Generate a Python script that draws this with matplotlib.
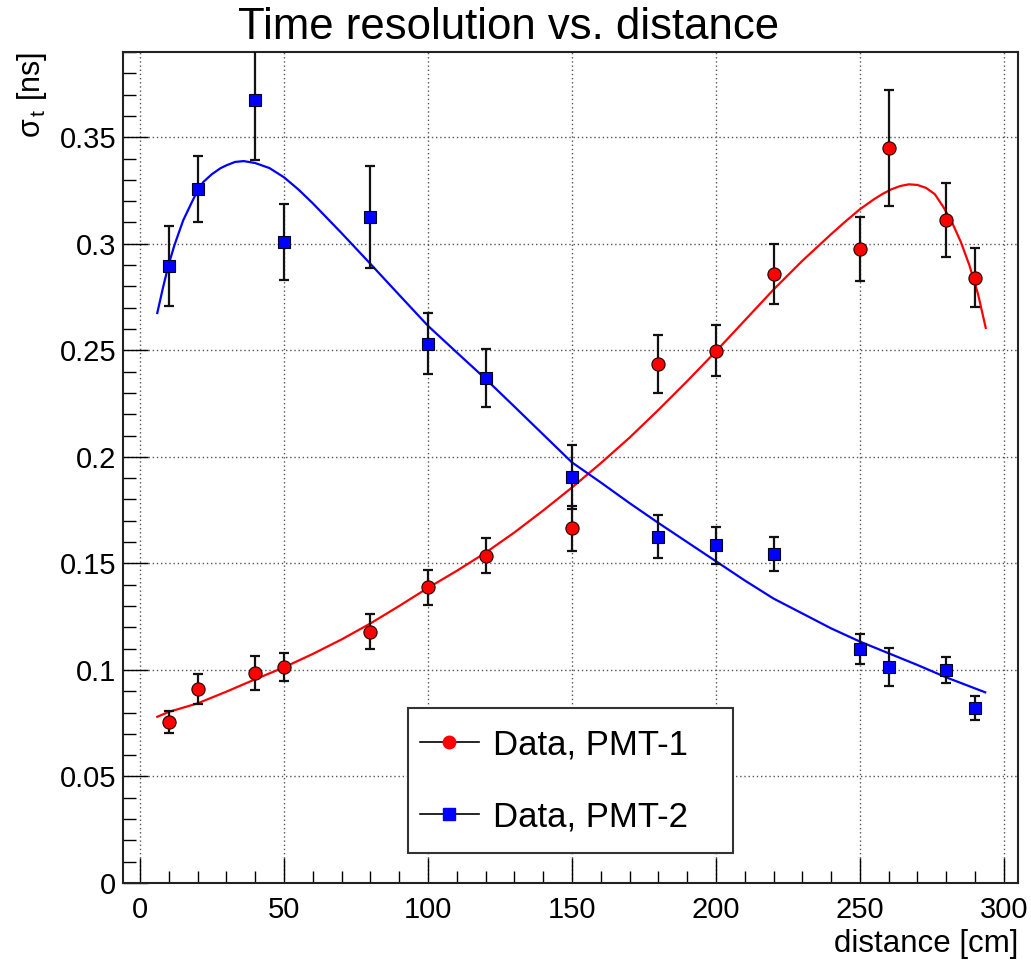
import matplotlib
matplotlib.use('Agg')
import matplotlib.pyplot as plt
from matplotlib.ticker import MultipleLocator, FuncFormatter
from matplotlib.lines import Line2D
from matplotlib.patches import Rectangle

plt.rcParams['font.family'] = ['Liberation Sans', 'DejaVu Sans']
plt.rcParams['mathtext.fontset'] = 'custom'
plt.rcParams['mathtext.rm'] = 'Liberation Sans'
plt.rcParams['mathtext.it'] = 'Liberation Sans'
plt.rcParams['mathtext.sf'] = 'Liberation Sans'

title = "Time resolution vs. distance"
x_label = "distance [cm]"
y_label = r"$\sigma_{\,t}$ [ns]"
legend_labels = ["Data, PMT-1", "Data, PMT-2"]

distance = [10, 20, 40, 50, 80, 100, 120, 150, 180, 200, 220, 250, 260, 280, 290]

sigma_pmt1 = [0.0755, 0.0909, 0.0984, 0.1012, 0.1180, 0.1387, 0.1537, 0.1664,
              0.2437, 0.2498, 0.2859, 0.2975, 0.3450, 0.3112, 0.2840]
err_pmt1 = [0.0050, 0.0070, 0.0080, 0.0066, 0.0082, 0.0080, 0.0084, 0.0105,
            0.0136, 0.0120, 0.0140, 0.0152, 0.0272, 0.0173, 0.0138]

sigma_pmt2 = [0.2896, 0.3257, 0.3674, 0.3008, 0.3126, 0.2530, 0.2371, 0.1907,
              0.1626, 0.1584, 0.1542, 0.1100, 0.1012, 0.0998, 0.0820]
err_pmt2 = [0.0187, 0.0157, 0.0280, 0.0180, 0.0239, 0.0143, 0.0136, 0.0150,
            0.0103, 0.0085, 0.0080, 0.0070, 0.0089, 0.0061, 0.0056]

fit1_x = [6, 10, 20, 30, 40, 50, 60, 70, 80, 90, 100, 110, 120, 130, 140, 150,
          160, 170, 180, 190, 200, 210, 220, 230, 240, 245, 250, 255, 258, 261,
          264, 267, 270, 273, 276, 279, 282, 285, 288, 291, 293.7]
fit1_y = [0.0780, 0.0803, 0.0843, 0.0898, 0.0956, 0.1012, 0.1075, 0.1143, 0.1218,
          0.1300, 0.1385, 0.1465, 0.1550, 0.1645, 0.1748, 0.1856, 0.1970, 0.2090,
          0.2220, 0.2355, 0.2495, 0.2640, 0.2785, 0.2920, 0.3045, 0.3105, 0.3162,
          0.3210, 0.3235, 0.3256, 0.3271, 0.3279, 0.3276, 0.3262, 0.3233, 0.3172,
          0.3100, 0.3010, 0.2900, 0.2765, 0.2605]

fit2_x = [6, 8, 10, 12, 15, 18, 20, 22, 25, 28, 30, 33, 36, 40, 45, 50, 55, 60,
          70, 80, 90, 100, 110, 120, 130, 140, 150, 160, 170, 180, 190, 200, 210,
          220, 230, 240, 250, 260, 270, 280, 293.5]
fit2_y = [0.2675, 0.2795, 0.2905, 0.2995, 0.3110, 0.3195, 0.3250, 0.3290, 0.3327,
          0.3355, 0.3368, 0.3384, 0.3388, 0.3379, 0.3355, 0.3312, 0.3255, 0.3190,
          0.3050, 0.2906, 0.2760, 0.2615, 0.2490, 0.2366, 0.2236, 0.2105, 0.1974,
          0.1880, 0.1783, 0.1690, 0.1600, 0.1510, 0.1420, 0.1335, 0.1265, 0.1195,
          0.1133, 0.1078, 0.1023, 0.0965, 0.0895]

fig = plt.figure(figsize=(10.31, 9.61), dpi=100)
ax = fig.add_axes([123 / 1031, 1 - 883 / 961, 895 / 1031, 831 / 961])

ax.set_xlim(-5.9, 304.9)
ax.set_ylim(0, 0.39)

ax.xaxis.set_major_locator(MultipleLocator(50))
ax.xaxis.set_minor_locator(MultipleLocator(10))
ax.yaxis.set_major_locator(MultipleLocator(0.05))
ax.yaxis.set_minor_locator(MultipleLocator(0.01))
ax.yaxis.set_major_formatter(FuncFormatter(lambda v, p: f"{v:g}"))

ax.grid(which='major', linestyle=(0, (1, 2)), color='#555555', linewidth=1.0)
ax.set_axisbelow(True)

ax.tick_params(which='major', direction='in', length=18, width=1.0,
               top=False, right=False, labelsize=21, pad=5, color='black')
ax.tick_params(which='minor', direction='in', length=9, width=1.0,
               top=False, right=False, color='black')
ax.tick_params(axis='x', which='major', pad=9)
for s in ax.spines.values():
    s.set_linewidth(1.5)
    s.set_color('#222222')

# fit curves
ax.plot(fit1_x, fit1_y, color='#ff0000', lw=1.6, zorder=3)
ax.plot(fit2_x, fit2_y, color='#0000ff', lw=1.6, zorder=3)

# data
ax.errorbar(distance, sigma_pmt1, yerr=err_pmt1, fmt='none', ecolor='#111111',
            elinewidth=1.6, capsize=3.5, capthick=1.6, zorder=4)
ax.plot(distance, sigma_pmt1, linestyle='none', marker='o', markersize=9.5,
        markerfacecolor='#ff0000', markeredgecolor='#220000', markeredgewidth=0.8,
        zorder=5)
ax.errorbar(distance, sigma_pmt2, yerr=err_pmt2, fmt='none', ecolor='#111111',
            elinewidth=1.6, capsize=3.5, capthick=1.6, zorder=4)
ax.plot(distance, sigma_pmt2, linestyle='none', marker='s', markersize=8.5,
        markerfacecolor='#0000ff', markeredgecolor='#000022', markeredgewidth=0.8,
        zorder=5)

# legend box
frame = Rectangle((0.3184, 0.0361), 0.3632, 0.1745, transform=ax.transAxes,
                  facecolor='white', edgecolor='#333333', linewidth=1.5, zorder=6)
ax.add_patch(frame)

handles = [
    Line2D([], [], color='black', lw=1.2, marker='o', markersize=9,
           markerfacecolor='#ff0000', markeredgecolor='#ff0000'),
    Line2D([], [], color='black', lw=1.2, marker='s', markersize=8,
           markerfacecolor='#0000ff', markeredgecolor='#0000ff'),
]
leg = ax.legend(handles, legend_labels, loc='center left',
                bbox_to_anchor=(0.3318, 0.1227), fontsize=25, frameon=False,
                handlelength=1.7, handletextpad=0.4, labelspacing=1.12,
                borderaxespad=0, borderpad=0)
leg.set_zorder(7)

ax.set_xlabel(x_label, fontsize=22.5, loc='right')
ax.xaxis.set_label_coords(1.0, -0.055)
ax.set_ylabel(y_label, fontsize=22, loc='top')
ax.yaxis.set_label_coords(-0.083, 1.0)

fig.text(0.493, 0.971, title, ha='center', va='center', fontsize=31.5)

fig.savefig('out.png', dpi=100)
